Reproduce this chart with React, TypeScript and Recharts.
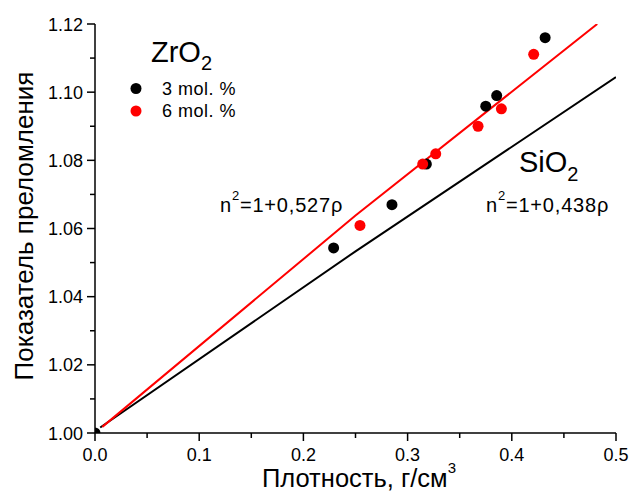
import { ScatterChart, Scatter, XAxis, YAxis } from 'recharts';

const FONT = '"Liberation Sans", Arial, sans-serif';

// measured points, density (g/cm3) vs refractive index
const mol3 = [
  { x: 0, y: 1.0 },
  { x: 0.229, y: 1.0543 },
  { x: 0.285, y: 1.067 },
  { x: 0.318, y: 1.0789 },
  { x: 0.375, y: 1.0959 },
  { x: 0.3855, y: 1.099 },
  { x: 0.432, y: 1.116 },
];

const mol6 = [
  { x: 0.2543, y: 1.0609 },
  { x: 0.3145, y: 1.0789 },
  { x: 0.327, y: 1.0819 },
  { x: 0.3676, y: 1.09 },
  { x: 0.39, y: 1.0951 },
  { x: 0.421, y: 1.1111 },
];

// fit lines
const siO2Line = [
  { x: 0.005, y: 1.0016 },
  { x: 0.25, y: 1.0533 },
  { x: 0.5, y: 1.1044 },
];

const zrO2Line = [
  { x: 0.007, y: 1.0018 },
  { x: 0.25, y: 1.0638 },
  { x: 0.482, y: 1.12 },
];

const xTicks = [0, 0.05, 0.1, 0.15, 0.2, 0.25, 0.3, 0.35, 0.4, 0.45, 0.5];
const xMajor = [0, 0.1, 0.2, 0.3, 0.4, 0.5];
const xLabels = ['0.0', '0.1', '0.2', '0.3', '0.4', '0.5'];

const yTicks = [1.0, 1.01, 1.02, 1.03, 1.04, 1.05, 1.06, 1.07, 1.08, 1.09, 1.1, 1.11, 1.12];
const yMajor = [1.0, 1.02, 1.04, 1.06, 1.08, 1.1, 1.12];
const yLabels = ['1.00', '1.02', '1.04', '1.06', '1.08', '1.10', '1.12'];

const seriesNames = ['3 mol. %', '6 mol. %'];
const seriesColors = ['#000000', '#ff0000'];

const findMajor = (list: number[], v: number) => list.findIndex((m) => Math.abs(m - v) < 1e-6);

const XTick = (props: any) => {
  const { x, y, payload } = props;
  const i = findMajor(xMajor, payload.value);
  return (
    <g>
      <line x1={x} x2={x} y1={y} y2={y + (i >= 0 ? 8 : 5)} stroke="#000" strokeWidth={1.5} />
      {i >= 0 && (
        <text x={x} y={y + 28} textAnchor="middle" fontSize={18} fill="#000" fontFamily={FONT}>
          {xLabels[i]}
        </text>
      )}
    </g>
  );
};

const YTick = (props: any) => {
  const { x, y, payload } = props;
  const i = findMajor(yMajor, payload.value);
  return (
    <g>
      <line x1={x} x2={x - (i >= 0 ? 8 : 5)} y1={y} y2={y} stroke="#000" strokeWidth={1.5} />
      {i >= 0 && (
        <text x={x - 12} y={y + 6.5} textAnchor="end" fontSize={18} fill="#000" fontFamily={FONT}>
          {yLabels[i]}
        </text>
      )}
    </g>
  );
};

const dot = (color: string) => (p: any) => <circle cx={p.cx} cy={p.cy} r={5.5} fill={color} />;
const noDot = () => <g />;

export default function App() {
  return (
    <div style={{ position: 'absolute', left: 0, top: 0, width: 630, height: 491, background: '#fff' }}>
      <ScatterChart width={630} height={491} margin={{ top: 24, right: 14, bottom: 0, left: 0 }}>
        <XAxis
          type="number"
          dataKey="x"
          domain={[0, 0.5]}
          ticks={xTicks}
          interval={0}
          allowDataOverflow
          height={58}
          tickSize={0}
          tickMargin={0}
          tick={<XTick />}
          axisLine={{ stroke: '#000', strokeWidth: 1.5 }}
        />
        <YAxis
          type="number"
          dataKey="y"
          domain={[1.0, 1.12]}
          ticks={yTicks}
          interval={0}
          allowDataOverflow
          width={95}
          tickSize={0}
          tickMargin={0}
          tick={<YTick />}
          axisLine={{ stroke: '#000', strokeWidth: 1.5 }}
        />
        <Scatter
          data={siO2Line}
          line={{ stroke: '#000', strokeWidth: 2 }}
          lineType="joint"
          shape={noDot}
          isAnimationActive={false}
        />
        <Scatter
          data={zrO2Line}
          line={{ stroke: '#ff0000', strokeWidth: 2 }}
          lineType="joint"
          shape={noDot}
          isAnimationActive={false}
        />
        <Scatter data={mol3} shape={dot(seriesColors[0])} isAnimationActive={false} />
        <Scatter data={mol6} shape={dot(seriesColors[1])} isAnimationActive={false} />
      </ScatterChart>
      <svg
        width={630}
        height={491}
        style={{ position: 'absolute', left: 0, top: 0, pointerEvents: 'none' }}
        fontFamily={FONT}
      >
        {/* axis titles */}
        <text x={33} y={226} transform="rotate(-90 33 226)" textAnchor="middle" fontSize={26} fill="#000">
          Показатель преломления
        </text>
        <text x={262} y={487} fontSize={25.5} fill="#000">
          Плотность, г/см<tspan dy={-14} fontSize={15}>3</tspan>
        </text>

        {/* legend */}
        <text x={151} y={62} fontSize={29} fill="#000">
          ZrO<tspan dy={8} fontSize={20}>2</tspan>
        </text>
        {seriesNames.map((name, i) => (
          <g key={name}>
            <circle cx={136} cy={88.5 + i * 22.5} r={5.5} fill={seriesColors[i]} />
            <text x={162} y={95 + i * 22} fontSize={18} letterSpacing={0.5} fill="#000">
              {name}
            </text>
          </g>
        ))}

        {/* annotations */}
        <text x={220} y={212} fontSize={20} letterSpacing={0.8} fill="#000">
          n<tspan dy={-12} fontSize={13}>2</tspan>
          <tspan dy={12}>=1+0,527ρ</tspan>
        </text>
        <text x={519} y={172} fontSize={29} fill="#000">
          SiO<tspan dy={9} fontSize={20}>2</tspan>
        </text>
        <text x={486} y={212} fontSize={20} letterSpacing={0.8} fill="#000">
          n<tspan dy={-12} fontSize={13}>2</tspan>
          <tspan dy={12}>=1+0,438ρ</tspan>
        </text>
      </svg>
    </div>
  );
}
